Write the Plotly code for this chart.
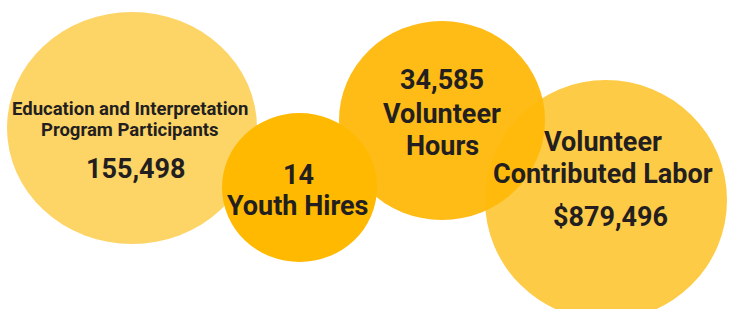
import plotly.graph_objects as go

# ---- data ----
labels = ["Education and Interpretation<br>Program Participants", "Youth Hires",
          "Volunteer<br>Hours", "Volunteer<br>Contributed Labor"]
values = ["155,498", "14", "34,585", "$879,496"]

# ---- layout of bubbles (pixel-like data coords) ----
cx = [132, 299.5, 442, 606]
cy = [128, 187.5, 120.5, 200]
rx = [125, 77.5, 103, 121]
ry = [116, 74.5, 99.5, 120]
fills = ["#FDD466", "#FFB900", "#FFB80A", "#FECB47"]
opac = [1, 1, 0.95, 1]
draw_order = [0, 3, 2, 1]

W, H = 731, 309
font = "Roboto"
txt = "#231F20"
BIG, SMALL = 27, 18.5

fig = go.Figure()
fig.add_trace(go.Scatter(x=[0, W], y=[0, H], mode="markers",
                         marker=dict(opacity=0), hoverinfo="skip", showlegend=False))

for i in draw_order:
    fig.add_shape(type="circle", xref="x", yref="y",
                  x0=cx[i] - rx[i], x1=cx[i] + rx[i],
                  y0=cy[i] - ry[i], y1=cy[i] + ry[i],
                  fillcolor=fills[i], opacity=opac[i], line=dict(width=0),
                  layer="below")

def ann(x, y, text, size):
    fig.add_annotation(x=x, y=y, xref="x", yref="y", text="<b>%s</b>" % text,
                       showarrow=False, xanchor="center", yanchor="middle",
                       font=dict(family=font, size=size, color=txt))

def lines(x, ys, text, size):
    for y, t in zip(ys, text.split("<br>")):
        ann(x, y, t, size)

# circle 1
lines(130, [108.5, 130], labels[0], SMALL)
ann(136, 169, values[0], BIG)
# circle 2
ann(298, 175, values[1], BIG)
ann(298, 206, labels[1], BIG)
# circle 3
ann(442, 80, values[2], BIG)
lines(442, [114, 146], labels[2], BIG)
# circle 4
lines(603, [142, 174], labels[3], BIG)
ann(610, 217, values[3], BIG)

fig.update_layout(width=W, height=H, margin=dict(l=0, r=0, t=0, b=0),
                  paper_bgcolor="white", plot_bgcolor="white",
                  xaxis=dict(range=[0, W], visible=False, fixedrange=True),
                  yaxis=dict(range=[H, 0], visible=False, fixedrange=True),
                  showlegend=False)

fig.write_html("out.html", config={"displayModeBar": False},
               post_script="document.body.style.margin='0';document.body.style.overflow='hidden';")
